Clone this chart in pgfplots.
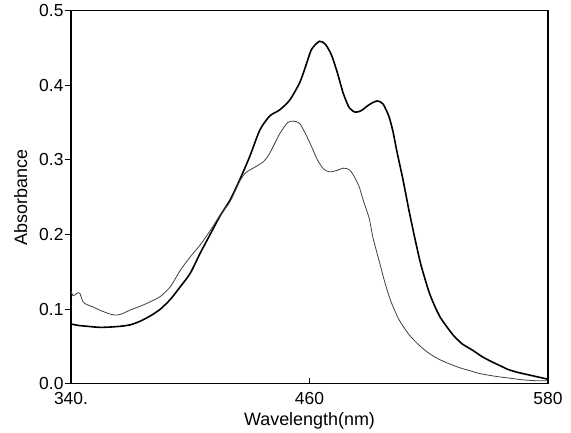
\documentclass[border=0pt]{standalone}
\usepackage{fontspec}
\setmainfont{Liberation Sans}
\usepackage{pgfplots}
\pgfplotsset{compat=1.18}

\begin{document}
\begin{tikzpicture}
\begin{axis}[
  scale only axis,
  width=477bp, height=373bp,
  xmin=340, xmax=580, ymin=0, ymax=0.5,
  xtick={340,460,580}, xticklabels={340.,460,580},
  ytick={0,0.1,0.2,0.3,0.4,0.5},
  yticklabel style={xshift=2bp, /pgf/number format/.cd,fixed,fixed zerofill,precision=1},
  /pgf/number format/assume math mode=true,
  xtick pos=bottom, ytick pos=left,
  xtick align=inside, ytick align=outside,
  major tick length=6bp,
  tick style={black, line width=1bp},
  axis line style={line width=1.3bp},
  ticklabel style={font=\fontsize{17.5}{19}\selectfont},
  xticklabel style={yshift=-5bp},
  label style={font=\fontsize{18}{20}\selectfont},
  xlabel={Wavelength(nm)},
  ylabel={Absorbance},
  xlabel style={yshift=-1bp},
  ylabel style={yshift=5bp},
]
% thick trace
\addplot[black, line width=1.6bp, smooth, tension=0.4] coordinates {
(340,0.080) (344,0.078) (348,0.077) (352,0.076) (355,0.0755) (360,0.076)
(365,0.077) (370,0.079) (375,0.084) (380,0.091) (385,0.100) (390,0.113)
(395,0.130) (400,0.148) (405,0.175) (410,0.200) (415,0.225) (420,0.246)
(425,0.274) (430,0.305) (435,0.340) (440,0.359) (445,0.367) (450,0.380)
(455,0.403) (458,0.425) (461,0.448) (465,0.459) (468,0.455) (471,0.441)
(474,0.417) (477,0.389) (480,0.370) (483,0.364) (486,0.366) (490,0.374)
(494,0.379) (497,0.375) (500,0.358) (502,0.338) (504,0.311) (507,0.274)
(510,0.233) (513,0.195) (516,0.160) (520,0.124) (523,0.104) (526,0.088)
(530,0.073) (533,0.063) (537,0.053) (542,0.045) (547,0.036) (552,0.029)
(556,0.024) (560,0.019) (565,0.015) (570,0.012) (575,0.009) (580,0.006)
};
% thin trace
\addplot[black!75, line width=0.8bp, smooth, tension=0.4] coordinates {
(340,0.124) (341,0.118) (342,0.119) (343.5,0.122) (344.5,0.121) (346,0.110)
(348,0.106) (351,0.103) (355,0.098) (360,0.093) (363,0.092) (366,0.094)
(370,0.099) (375,0.104) (380,0.110) (385,0.117) (390,0.130) (395,0.152)
(400,0.170) (405,0.186) (410,0.205) (415,0.226) (420,0.244) (425,0.272)
(428,0.283) (433,0.291) (437,0.298) (440,0.309) (445,0.335) (449,0.350)
(452,0.352) (455,0.349) (458,0.335) (461,0.318) (464,0.300) (467,0.288)
(470,0.284) (474,0.286) (477,0.289) (480,0.287) (482,0.280) (485,0.264)
(487,0.246) (490,0.222) (492,0.195) (495,0.165) (498,0.135) (501,0.110)
(505,0.086) (510,0.066) (515,0.052) (520,0.041) (525,0.033) (530,0.027)
(536,0.021) (540,0.018) (545,0.014) (551,0.011) (556,0.009) (562,0.007)
(568,0.005) (574,0.004) (580,0.004)
};
\end{axis}
\path ([xshift=-71bp,yshift=-48bp]current axis.south west)
  rectangle ([xshift=23bp,yshift=10.7bp]current axis.north east);
\end{tikzpicture}
\end{document}
